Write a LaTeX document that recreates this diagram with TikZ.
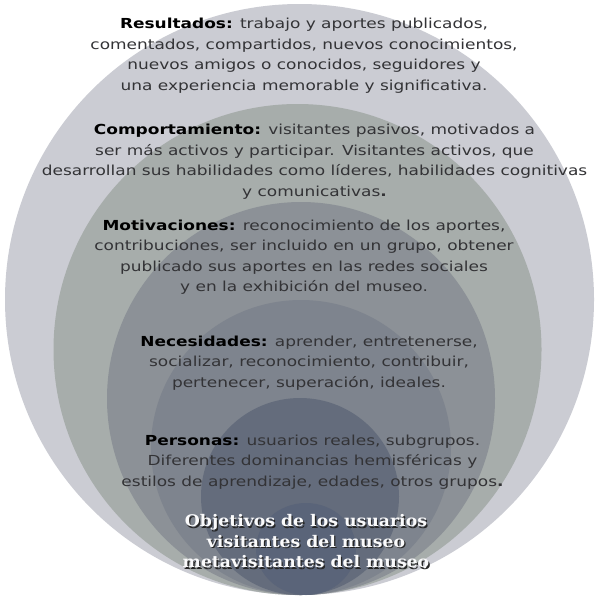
\documentclass[tikz,border=0pt]{standalone}
\usepackage{fontspec}
\setmainfont[FakeStretch=1.23]{DejaVu Sans}
\newfontfamily\objfont[FakeStretch=1.08]{DejaVu Serif}
\definecolor{cA}{HTML}{CBCCD3}
\definecolor{cB}{HTML}{A7ADAB}
\definecolor{cC}{HTML}{8C9197}
\definecolor{cD}{HTML}{7E848E}
\definecolor{cE}{HTML}{646C7C}
\definecolor{cF}{HTML}{5A6479}
\definecolor{txt}{HTML}{333336}
\begin{document}
\begin{tikzpicture}[x=1pt,y=-1pt,
  blocktext/.style={align=center,text=txt,font=\fontsize{13.8}{20.5}\selectfont,inner sep=0pt},
  objtext/.style={align=center,font=\objfont\bfseries\fontsize{16}{20.5}\selectfont,inner sep=0pt}]
\useasboundingbox (0,0) rectangle (601,598);
\fill[white] (0,0) rectangle (601,598);
\fill[cA] (299.5,299.5) ellipse [x radius=294.5pt, y radius=295.5pt];
\fill[cB] (297.5,349.5) ellipse [x radius=244pt, y radius=245.5pt];
\fill[cC] (301,398.5) ellipse [x radius=194pt, y radius=196.5pt];
\fill[cD] (301,447.5) ellipse [x radius=150pt, y radius=147.5pt];
\fill[cE] (300,496.5) ellipse [x radius=99pt, y radius=98.5pt];
\fill[cF] (306,549) ellipse [x radius=50pt, y radius=46pt];

\node[blocktext] (res) at (304,55.5) {\textbf{\color{black}Resultados:} trabajo y aportes publicados,\\
comentados, compartidos, nuevos conocimientos,\\
nuevos amigos o conocidos, seguidores y\\
una experiencia memorable y significativa.};
\node[blocktext] (comp) at (314.5,161.5) {\textbf{\color{black}Comportamiento:} visitantes pasivos, motivados a\\
ser más activos y participar. Visitantes activos, que\\
desarrollan sus habilidades como líderes, habilidades cognitivas\\
y comunicativas\textbf{.}};
\node[blocktext] (mot) at (304,257) {\textbf{\color{black}Motivaciones:} reconocimiento de los aportes,\\
contribuciones, ser incluido en un grupo, obtener\\
publicado sus aportes en las redes sociales\\
y en la exhibición del museo.};
\node[blocktext] (nec) at (309,363) {\textbf{\color{black}Necesidades:} aprender, entretenerse,\\
socializar, reconocimiento, contribuir,\\
pertenecer, superación, ideales.};
\node[blocktext] (per) at (312.5,462) {\textbf{\color{black}Personas:} usuarios reales, subgrupos.\\
Diferentes dominancias hemisféricas y\\
estilos de aprendizaje, edades, otros grupos\textbf{.}};
\node[objtext,text=black!85] (objsh) at (307.3,542.8) {Objetivos de los usuarios\\visitantes del museo\\metavisitantes del museo};
\node[objtext,text=white!90!cA] (obj) at (306,541.5) {Objetivos de los usuarios\\visitantes del museo\\metavisitantes del museo};
\end{tikzpicture}
\end{document}
